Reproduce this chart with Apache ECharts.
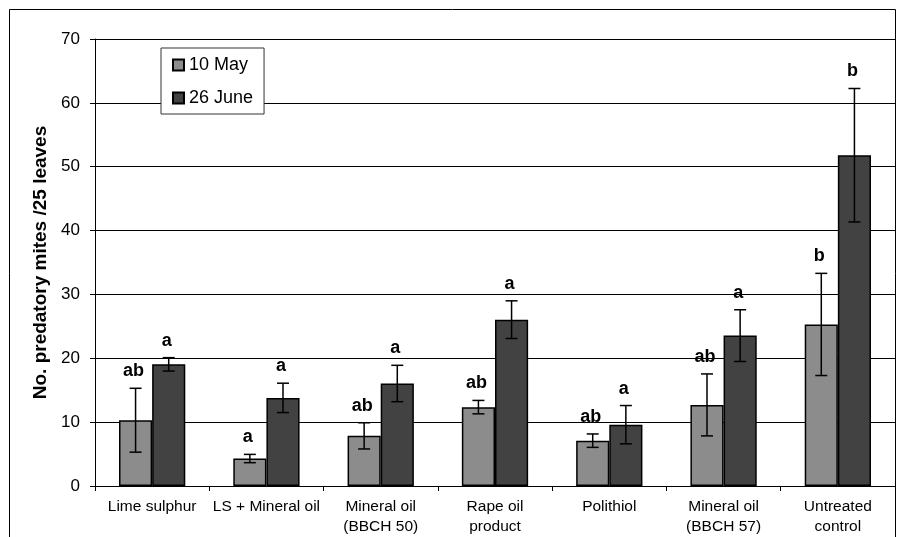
<!DOCTYPE html>
<html>
<head>
<meta charset="utf-8">
<script src="https://cdn.jsdelivr.net/npm/echarts@6/dist/echarts.min.js"></script>
<style>html,body{margin:0;padding:0;background:#fff}#c{width:899px;height:537px}</style>
</head>
<body>
<div id="c"></div>
<script>
var categories = ['Lime sulphur', 'LS + Mineral oil', 'Mineral oil\n(BBCH 50)', 'Rape oil\nproduct', 'Polithiol', 'Mineral oil\n(BBCH 57)', 'Untreated\ncontrol'];
var seriesNames = ['10 May', '26 June'];
var mayValues = [10.3, 4.3, 7.85, 12.35, 7.1, 12.7, 25.3];
var mayErrors = [5.0, 0.65, 2.05, 1.05, 1.05, 4.85, 8.0];
var mayLetters = ['ab', 'a', 'ab', 'ab', 'ab', 'ab', 'b'];
var juneValues = [19.05, 13.8, 16.05, 26.05, 9.6, 23.55, 51.8];
var juneErrors = [1.05, 2.3, 2.85, 2.95, 3.0, 4.05, 10.45];
var juneLetters = ['a', 'a', 'a', 'a', 'a', 'a', 'b'];
var yTicks = [0, 10, 20, 30, 40, 50, 60, 70];

var FONT = '"Liberation Sans", Arial, sans-serif';
var GAP = 0.42;
function errSeries(values, errors, letters, side) {
  var data = values.map(function (v, i) { return [i, v, errors[i], letters[i]]; });
  return {
    type: 'custom',
    z: 10,
    silent: true,
    data: data,
    encode: { x: 0, y: 1 },
    renderItem: function (params, api) {
      var idx = api.value(0);
      var val = api.value(1);
      var err = api.value(2);
      var letter = data[params.dataIndex][3];
      var band = api.size([1, 0])[0];
      var barW = band * (1 - GAP) / 2;
      var c = api.coord([idx, val]);
      var x = c[0] + side * barW / 2;
      var top = api.coord([idx, val + err])[1];
      var bot = api.coord([idx, val - err])[1];
      var cap = 6;
      var st = { stroke: '#000', lineWidth: 1.5 };
      return {
        type: 'group',
        children: [
          { type: 'line', shape: { x1: x, y1: top, x2: x, y2: bot }, style: st },
          { type: 'line', shape: { x1: x - cap, y1: top, x2: x + cap, y2: top }, style: st },
          { type: 'line', shape: { x1: x - cap, y1: bot, x2: x + cap, y2: bot }, style: st },
          { type: 'text', x: x - 2, y: top - 17, style: { text: letter, fill: '#000', font: 'bold 18px ' + FONT, align: 'center', verticalAlign: 'middle' } }
        ]
      };
    }
  };
}

var chart = echarts.init(document.getElementById('c'), null, { renderer: 'canvas' });
chart.setOption({
  animation: false,
  backgroundColor: '#fff',
  textStyle: { fontFamily: FONT },
  graphic: [{
    type: 'rect', z: -10, silent: true,
    shape: { x: 9.5, y: 9.5, width: 886, height: 540 },
    style: { fill: 'none', stroke: '#000', lineWidth: 1 }
  }],
  grid: { left: 95, right: 4, top: 39, bottom: 49, containLabel: false },
  legend: {
    orient: 'vertical',
    left: 161, top: 48,
    data: seriesNames,
    backgroundColor: '#fff',
    borderColor: '#333',
    borderWidth: 1,
    padding: [8, 11, 7, 11],
    itemGap: 15,
    itemWidth: 11, itemHeight: 11,
    icon: 'rect',
    textStyle: { fontSize: 18, color: '#000' }
  },
  xAxis: {
    type: 'category',
    data: categories,
    axisLine: { lineStyle: { color: '#000', width: 1 } },
    axisTick: { show: true, length: 5, lineStyle: { color: '#000' } },
    axisLabel: { color: '#000', fontSize: 15.5, margin: 11, lineHeight: 20, interval: 0 },
    splitLine: { show: false }
  },
  yAxis: {
    type: 'value',
    min: 0, max: 70, interval: 10,
    name: 'No. predatory mites /25 leaves',
    nameLocation: 'middle',
    nameGap: 40,
    nameTextStyle: { fontSize: 19, fontWeight: 'bold', color: '#000' },
    axisLine: { show: true, lineStyle: { color: '#000', width: 1 } },
    axisTick: { show: true, length: 5, lineStyle: { color: '#000' } },
    axisLabel: { color: '#000', fontSize: 17, margin: 15,
      formatter: function (v) { return yTicks.indexOf(v) >= 0 ? String(v) : ''; } },
    splitLine: { show: true, lineStyle: { color: '#000', width: 1 } }
  },
  series: [
    { name: seriesNames[0], type: 'bar', data: mayValues, barGap: '0%', barCategoryGap: (GAP * 100) + '%',
      itemStyle: { color: '#8c8c8c', borderColor: '#000', borderWidth: 1.5 } },
    { name: seriesNames[1], type: 'bar', data: juneValues, barGap: '0%', barCategoryGap: (GAP * 100) + '%',
      itemStyle: { color: '#424242', borderColor: '#000', borderWidth: 1.5 } },
    errSeries(mayValues, mayErrors, mayLetters, -1),
    errSeries(juneValues, juneErrors, juneLetters, 1)
  ]
});
</script>
</body>
</html>
